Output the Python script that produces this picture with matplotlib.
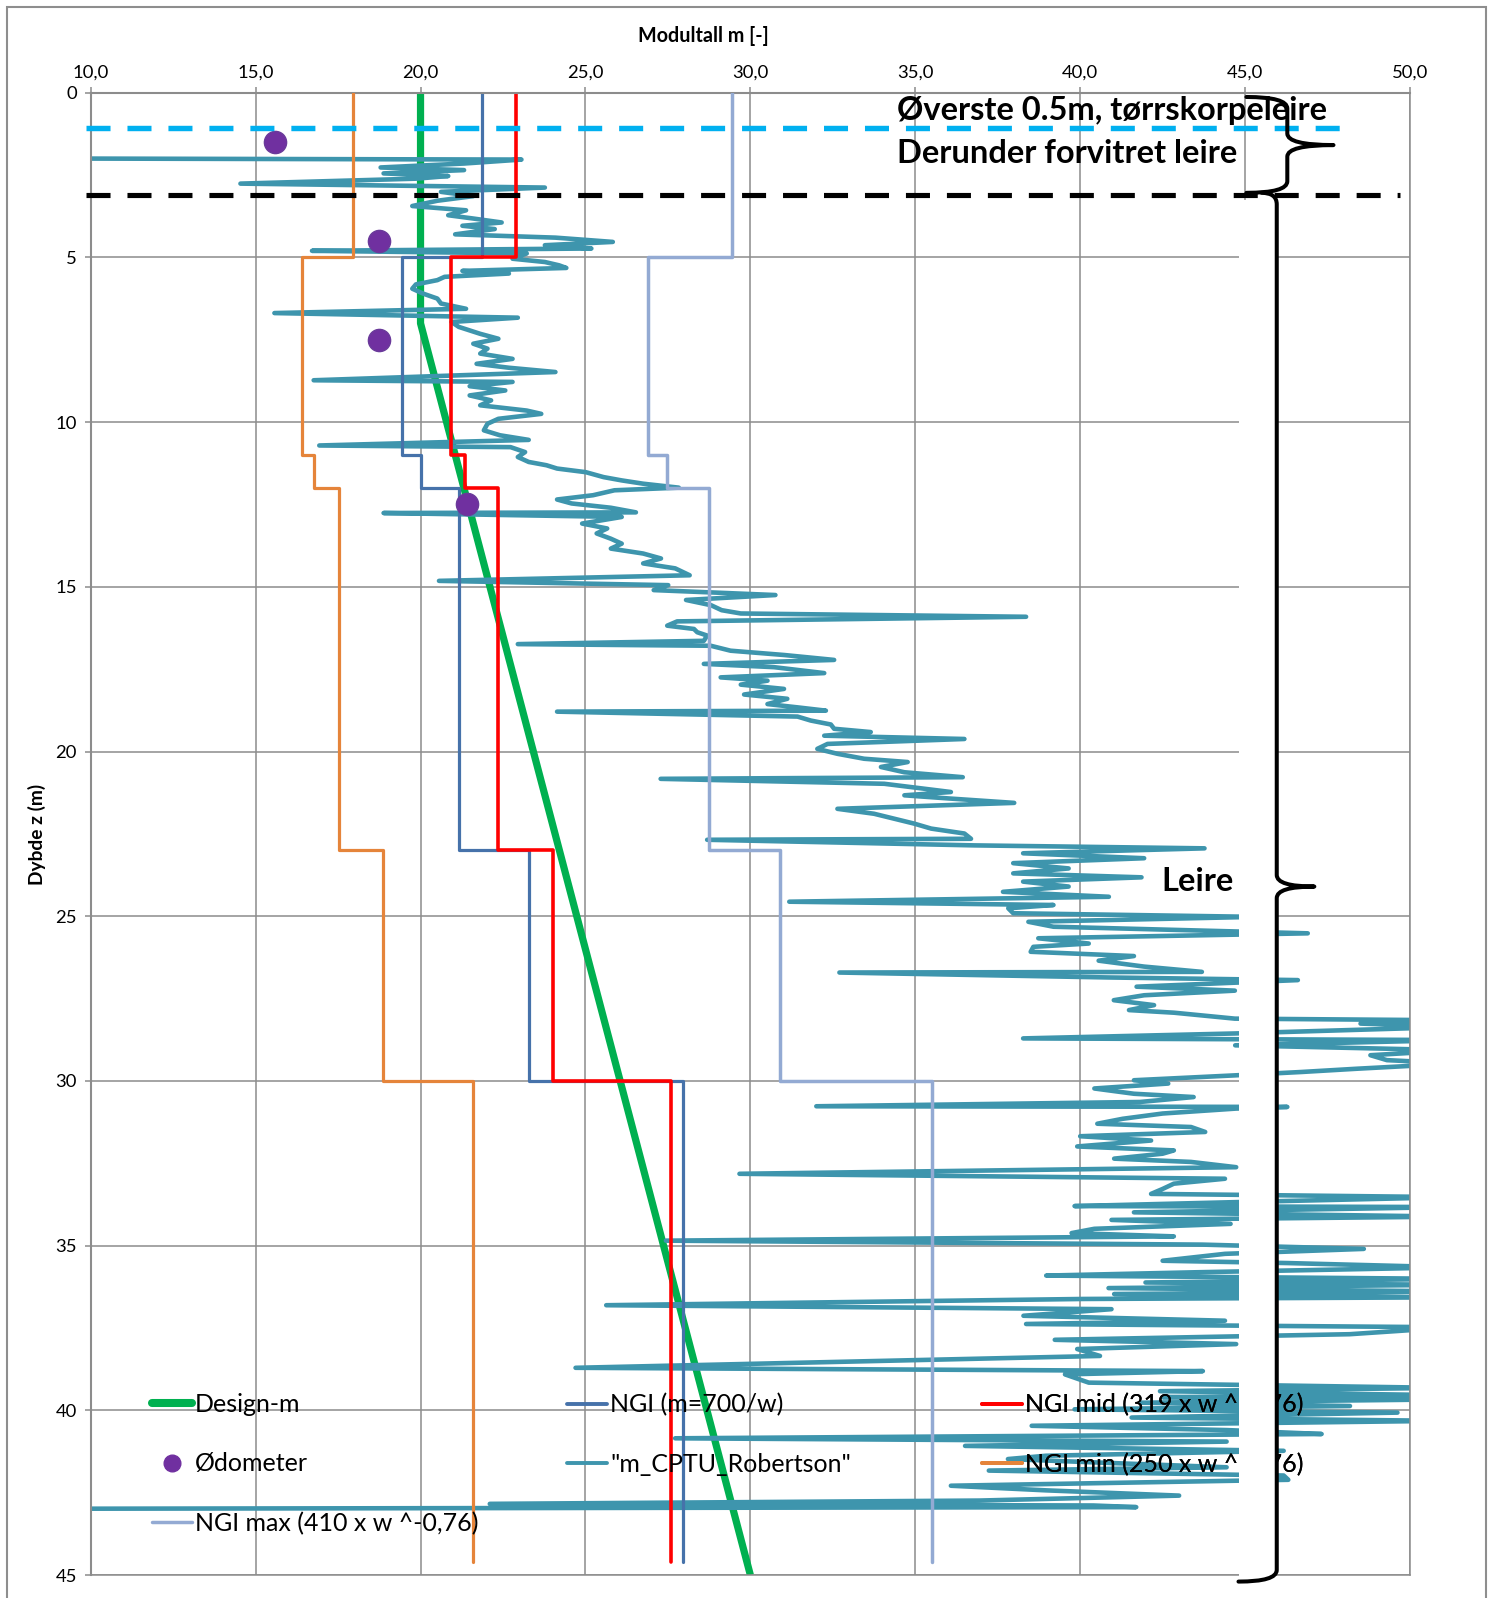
import matplotlib
matplotlib.use("Agg")
import matplotlib.pyplot as plt
from matplotlib.path import Path
from matplotlib.patches import PathPatch, Rectangle
from matplotlib.lines import Line2D

plt.rcParams['font.family'] = ['Lato', 'DejaVu Sans']
plt.rcParams['lines.scale_dashes'] = False

# ---------------------------------------------------------------- data
# NGI layer model: layer tops (m depth) and modulus number per layer
layer_top = [0, 5, 11, 12, 23, 30]
layer_end = 44.6
ngi_700 = [21.85, 19.43, 20.0, 21.18, 23.28, 27.97]
ngi_mid = [22.88, 20.92, 21.36, 22.36, 24.03, 27.6]
ngi_min = [17.94, 16.42, 16.78, 17.52, 18.85, 21.6]
ngi_max = [29.43, 26.9, 27.46, 28.74, 30.9, 35.5]

# design line
design_depth = [0, 7, 45]
design_m = [20, 20, 30]

# oedometer tests
odo_depth = [1.5, 4.5, 7.5, 12.5]
odo_m = [15.6, 18.75, 18.75, 21.4]

# CPTU interpretation (Robertson)
cptu_depth = [
    2.00, 2.03, 2.15, 2.27, 2.35, 2.45, 2.53, 2.61, 2.76, 2.88, 3.01, 3.14, 3.28, 3.44,
    3.57, 3.72, 3.82, 3.94, 4.04, 4.14, 4.30, 4.40, 4.53, 4.63, 4.73, 4.80, 4.88, 5.04,
    5.14, 5.24, 5.32, 5.41, 5.49, 5.59, 5.69, 5.82, 5.95, 6.10, 6.25, 6.40, 6.56, 6.69,
    6.83, 6.96, 7.11, 7.32, 7.47, 7.62, 7.77, 7.92, 8.08, 8.23, 8.35, 8.48, 8.73, 8.78,
    8.91, 9.04, 9.19, 9.34, 9.49, 9.65, 9.75, 9.90, 10.05, 10.25,
    10.40, 10.54, 10.71, 10.76, 10.91, 11.06, 11.21, 11.31, 11.41, 11.52, 11.67, 11.77,
    11.87, 11.99, 12.07, 12.22, 12.35, 12.47, 12.60, 12.74, 12.76, 12.88, 13.08, 13.23,
    13.38, 13.54, 13.69, 13.84, 13.99, 14.14, 14.29, 14.44, 14.65, 14.82, 14.95, 15.10,
    15.25, 15.40, 15.56,
    15.71, 15.81, 15.91, 16.05, 16.18, 16.28, 16.38, 16.48, 16.64, 16.74, 16.79, 16.94,
    17.07, 17.22, 17.34, 17.44, 17.62, 17.75, 17.85, 17.97, 18.10, 18.27, 18.40, 18.56,
    18.66, 18.76, 18.79, 18.94, 19.06, 19.18, 19.31, 19.41, 19.52, 19.62, 19.77, 19.92,
    20.07, 20.22, 20.32, 20.47, 20.63, 20.78, 20.83, 20.98, 21.13, 21.23, 21.33, 21.43,
    21.56, 21.74, 21.89, 22.04, 22.19, 22.34, 22.49, 22.65, 22.68, 22.85,
    22.94, 23.09, 23.24, 23.39, 23.55, 23.70, 23.82, 23.95, 24.10, 24.26, 24.41, 24.56,
    24.66, 24.76, 24.91, 25.02, 25.17, 25.32, 25.52, 25.67, 25.83, 25.93, 26.08, 26.21,
    26.35, 26.53, 26.69, 26.71, 26.86, 26.94, 27.14, 27.26, 27.40, 27.55, 27.70, 27.85,
    27.93, 28.11, 28.16, 28.26, 28.36, 28.56, 28.71, 28.76, 28.92, 29.07, 29.22, 29.37,
    29.47, 29.63, 29.73, 29.83,
    29.98, 30.08, 30.23, 30.39, 30.49, 30.64, 30.77, 30.79, 30.84, 30.99, 31.15, 31.30,
    31.40, 31.55, 31.68, 31.81, 31.99, 32.11, 32.21, 32.36, 32.46, 32.62, 32.82, 32.97,
    33.12, 33.28, 33.43, 33.53, 33.68, 33.80, 33.83, 33.99, 34.12, 34.22, 34.34, 34.49,
    34.62, 34.72, 34.85, 34.97, 35.10, 35.25, 35.46, 35.53, 35.66, 35.81, 35.91, 36.01,
    36.12, 36.19, 36.29, 36.39, 36.47, 36.57, 36.62, 36.81, 36.93, 37.13, 37.28, 37.38,
    37.48, 37.69, 37.86, 37.99, 38.14, 38.35,
    38.71, 38.81, 38.91, 39.16, 39.32, 39.42, 39.54, 39.60, 39.67, 39.77, 39.87, 39.97,
    40.07, 40.22, 40.32, 40.47, 40.60, 40.72, 40.85, 40.95, 41.08, 41.23, 41.38, 41.48,
    41.58, 41.73, 41.83, 41.98, 42.11, 42.29, 42.43, 42.59, 42.74, 42.84, 42.89, 42.94,
    42.99,
]
cptu_m = [
    9.9, 23.06, 21.32, 18.79, 21.32, 18.88, 20.84, 19.86, 14.54, 23.77, 20.62, 21.6, 20.51, 19.75,
    21.38, 20.84, 21.6, 22.46, 21.27, 22.25, 21.05, 24.09, 25.83, 23.77, 25.18, 16.71, 23.22, 22.79,
    23.77, 24.2, 24.42, 21.27, 22.68, 20.73, 20.51, 19.86, 19.75, 20.08, 20.51, 20.62, 21.38, 15.57,
    22.95, 20.94, 21.16, 21.81, 22.36, 21.6, 22.03, 21.81, 22.79, 21.7, 22.68, 24.09, 16.76, 22.79,
    21.49, 22.57, 21.49, 22.14, 21.81, 23.22, 23.66, 22.36, 22.03, 21.92,
    22.41, 23.28, 16.93, 22.73, 23.17, 22.95, 23.28, 23.82, 24.14, 25.01, 25.55, 26.10,
    26.75, 27.83, 25.88, 25.23, 24.14, 24.58, 25.77, 26.53, 18.88, 26.10, 24.90, 25.66,
    25.34, 25.77, 26.10, 25.77, 26.75, 27.29, 26.75, 27.72, 28.16, 20.56, 27.51, 27.07,
    30.76, 28.05, 28.81,
    29.13, 29.71, 38.36, 27.78, 27.48, 28.29, 28.39, 28.69, 28.59, 22.95, 28.80, 29.40,
    31.02, 32.54, 28.59, 30.72, 32.24, 29.10, 30.52, 29.71, 31.02, 29.81, 31.12, 30.52,
    31.43, 32.29, 24.14, 31.43, 31.83, 32.44, 32.54, 33.65, 32.24, 36.49, 32.34, 32.03,
    32.64, 33.45, 34.77, 33.96, 34.67, 36.44, 27.28, 34.06, 35.27, 36.08, 34.67, 36.08,
    38.0, 32.64, 33.75, 34.36, 34.97, 35.48, 36.49, 36.69, 28.69, 36.79,
    43.77, 38.27, 41.94, 37.97, 39.65, 37.97, 41.86, 38.27, 39.65, 37.66, 40.87, 31.18,
    39.19, 37.82, 37.97, 45.3, 38.43, 39.19, 46.9, 38.73, 40.26, 38.58, 38.50, 41.63,
    40.56, 41.94, 43.69, 32.70, 40.87, 46.6, 41.71, 44.69, 41.94, 41.02, 42.24, 41.48,
    42.85, 44.69, 51.4, 48.5, 51.4, 44.69, 38.27, 51.4, 44.7, 51.4, 48.8, 49.3,
    51.4, 48.4, 46.7, 44.73,
    41.63, 42.67, 40.43, 41.63, 43.44, 41.81, 32.0, 46.28, 44.73, 42.50, 41.29, 40.52,
    43.36, 43.79, 40.0, 42.15, 39.91, 42.84, 42.50, 41.03, 43.36, 44.73, 29.67, 44.39,
    42.84, 42.50, 42.15, 51.3, 44.73, 39.83, 51.3, 41.63, 51.3, 40.95, 44.56, 40.43,
    39.74, 42.84, 27.44, 43.70, 48.6, 44.39, 42.50, 46.28, 51.3, 43.5, 38.97, 51.3,
    41.98, 51.3, 40.86, 51.3, 41.03, 51.3, 40.09, 25.63, 40.95, 38.28, 44.39, 38.36,
    51.3, 48.17, 39.23, 44.73, 39.91, 40.60,
    24.70, 43.72, 39.54, 40.26, 51.0, 42.42, 51.0, 42.5, 51.0, 41.84, 48.18, 39.83,
    49.62, 41.56, 51.0, 38.53, 44.44, 47.32, 27.72, 44.44, 36.51, 46.17, 38.96, 37.81,
    40.40, 44.44, 37.23, 46.17, 46.31, 36.08, 38.96, 43.0, 36.95, 22.10, 40.40, 41.70,
    8.0,
]

# boundary depths marked with dashed lines
dry_crust_depth = 1.07
weathered_depth = 3.12

x_ticks = [10, 15, 20, 25, 30, 35, 40, 45, 50]
y_ticks = [0, 5, 10, 15, 20, 25, 30, 35, 40, 45]

# ---------------------------------------------------------------- style
GREEN = '#00B050'
BLUE = '#4672AA'
RED = '#FF0000'
ORANGE = '#E5843A'
LIGHT = '#93AAD3'
TEAL = '#3E95AD'
PURPLE = '#7030A0'
CYAN = '#00B0F0'
GRID = '#8C8C8C'


def step_profile(tops, values, bottom):
    bounds = list(tops[1:]) + [bottom]
    xs, ys = [], []
    for t, b, v in zip(tops, bounds, values):
        xs += [v, v]
        ys += [t, b]
    return xs, ys


W, H = 1489, 1598
fig = plt.figure(figsize=(W / 100, H / 100), dpi=100)
fig.patch.set_facecolor('white')

x0, x1 = 90.7, 1410.0
y0, y1 = 92.7, 1575.0
ax = fig.add_axes([x0 / W, 1 - y1 / H, (x1 - x0) / W, (y1 - y0) / H])
ax.set_xlim(10, 50)
ax.set_ylim(45, 0)

ax.set_xticks(x_ticks)
ax.set_xticklabels([f"{v:.1f}".replace('.', ',') for v in x_ticks])
ax.set_yticks(y_ticks)
ax.set_yticklabels([str(v) for v in y_ticks])
ax.xaxis.tick_top()
ax.tick_params(axis='x', direction='out', length=4, width=1.1, color=GRID,
               pad=5, labelsize=13.3)
ax.tick_params(axis='y', direction='out', length=4, width=1.1, color=GRID,
               pad=6, labelsize=13.3)
ax.grid(True, color=GRID, lw=1.1)
ax.set_axisbelow(True)
for side, sp in ax.spines.items():
    sp.set_color(GRID)
    sp.set_linewidth(1.5 if side in ('top', 'left') else 1.1)

# profiles
ax.plot(design_m, design_depth, color=GREEN, lw=5.2, solid_capstyle='butt', zorder=2)
ax.plot(cptu_m, cptu_depth, color=TEAL, lw=3.3, solid_capstyle='round',
        solid_joinstyle='round', zorder=2.2)
for vals, col, lw, z in [(ngi_700, BLUE, 2.3, 2.4), (ngi_mid, RED, 2.6, 2.5),
                         (ngi_min, ORANGE, 2.3, 2.6), (ngi_max, LIGHT, 2.5, 2.7)]:
    xs, ys = step_profile(layer_top, vals, layer_end)
    ax.plot(xs, ys, color=col, lw=lw, solid_capstyle='round', zorder=z)
ax.plot(odo_m, odo_depth, ls='none', marker='o', ms=16, color=PURPLE,
        markeredgecolor='#6A3A9A', zorder=3)

# layer boundaries
ax.plot([9.85, 48.1], [dry_crust_depth] * 2, color=CYAN, lw=3.9,
        dashes=(17.3, 12.2), dash_capstyle='butt', clip_on=False, zorder=4)
ax.plot([9.85, 49.7], [weathered_depth] * 2, color='black', lw=3.7,
        dashes=(17.3, 12.2), dash_capstyle='butt', clip_on=False, zorder=4)

txt_kw = dict(fontsize=23.5, fontweight='bold', va='baseline', ha='left', zorder=4.5)
ax.text(34.45, 0.83, 'Øverste 0.5m, tørrskorpeleire', **txt_kw)
ax.text(34.45, 2.13, 'Derunder forvitret leire', **txt_kw)
ax.text(42.45, 24.23, 'Leire', **txt_kw)

# axis titles
fig.text(703 / W, 1 - 42.5 / H, 'Modultall m [-]', ha='center', va='baseline',
         fontsize=14.2, fontweight='bold')
fig.text(36.5 / W, 1 - 834.5 / H, 'Dybde z (m)', rotation=90, ha='center',
         va='center', fontsize=13.8, fontweight='bold')

# legends, one per column
h_design = Line2D([], [], color=GREEN, lw=5.8, solid_capstyle='round')
h_odo = Line2D([], [], ls='none', marker='o', ms=12, color=PURPLE)
h_max = Line2D([], [], color=LIGHT, lw=2.5, solid_capstyle='round')
h_700 = Line2D([], [], color=BLUE, lw=2.8, solid_capstyle='round')
h_cptu = Line2D([], [], color=TEAL, lw=2.8, solid_capstyle='round')
h_mid = Line2D([], [], color=RED, lw=2.8, solid_capstyle='round')
h_min = Line2D([], [], color=ORANGE, lw=2.8, solid_capstyle='round')

leg_kw = dict(frameon=False, fontsize=18, handlelength=1.6, handletextpad=0.12,
              labelspacing=1.46, borderpad=0, borderaxespad=0, loc='center left',
              bbox_transform=fig.transFigure)
legs = [
    ([h_design, h_odo, h_max], ['Design-m', 'Ødometer', 'NGI max (410 x w ^-0,76)'],
     (152 / W, 1 - 1464 / H)),
    ([h_700, h_cptu], ['NGI (m=700/w)', '"m_CPTU_Robertson"'],
     (567 / W, 1 - 1434.5 / H)),
    ([h_mid, h_min], ['NGI mid (319 x w ^-0,76)', 'NGI min (250 x w ^-0,76)'],
     (982 / W, 1 - 1434.5 / H)),
]
for handles, labels, anchor in legs:
    leg = ax.legend(handles, labels, bbox_to_anchor=anchor, **leg_kw)
    leg.set_zorder(5)
    ax.add_artist(leg)

# blank strip behind the lower brace
ax.add_patch(Rectangle((44.82, 3.25), 45.93 - 44.82, 45.6 - 3.25, facecolor='white',
                       edgecolor='none', zorder=6, clip_on=False))


def brace(x_top, y_top, x_line, y_tip, x_tip, y_bot, x_bot, r=0.35):
    verts = [(x_top, y_top), (x_line, y_top), (x_line, y_top + r),
             (x_line, y_tip - r), (x_line, y_tip), (x_tip, y_tip),
             (x_line, y_tip), (x_line, y_tip + r),
             (x_line, y_bot - r), (x_line, y_bot), (x_bot, y_bot)]
    codes = [Path.MOVETO, Path.CURVE3, Path.CURVE3, Path.LINETO, Path.CURVE3,
             Path.CURVE3, Path.CURVE3, Path.CURVE3, Path.LINETO, Path.CURVE3, Path.CURVE3]
    return PathPatch(Path(verts, codes), facecolor='none', edgecolor='black', lw=2.9,
                     capstyle='round', joinstyle='round', zorder=7, clip_on=False)


ax.add_patch(brace(45.04, 0.13, 46.28, 1.59, 47.68, 3.04, 45.04))
ax.add_patch(brace(45.5, 3.04, 45.96, 24.1, 47.1, 45.2, 44.8))

# outer chart border
fig.add_artist(Rectangle((6.5 / W, -0.02), (1485.5 - 6.5) / W, 1.02 - 7 / H,
                         transform=fig.transFigure, facecolor='none',
                         edgecolor='#8E8E8E', lw=1.5))

fig.savefig('out.png', dpi=100, facecolor='white')
